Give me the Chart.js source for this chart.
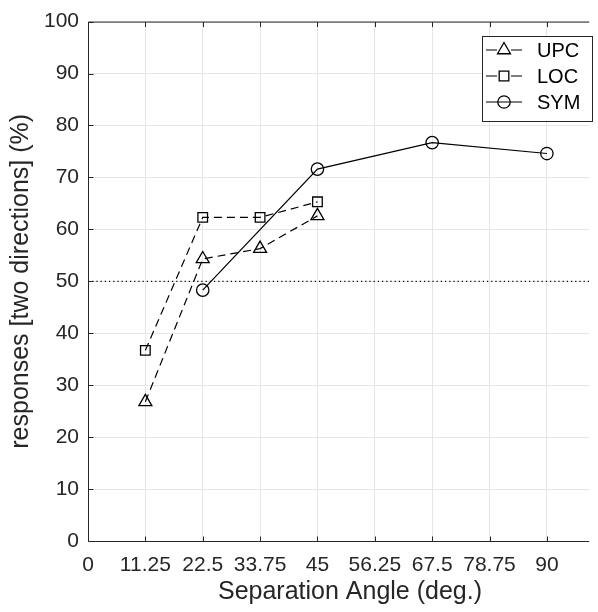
<!DOCTYPE html>
<html lang="en">
<head>
<meta charset="UTF-8">
<title>Separation Angle</title>
<script src="https://cdn.jsdelivr.net/npm/chart.js"></script>
<style>
  html, body { margin: 0; padding: 0; background: #fff; overflow: hidden; }
  #chart { display: block; }
</style>
</head>
<body>
<canvas id="chart" width="598" height="612"></canvas>
<script>
// tick positions / axis range (the axes run on past the right edge)
const xTicks = [0, 11.25, 22.5, 33.75, 45, 56.25, 67.5, 78.75, 90];
const yTicks = [0, 10, 20, 30, 40, 50, 60, 70, 80, 90, 100];
const xMax = 98.3;

// results per condition
const upcAngles = [11.25, 22.5, 33.75, 45];
const upcValues = [26.8, 54.3, 56.3, 62.6];
const locAngles = [11.25, 22.5, 33.75, 45];
const locValues = [36.7, 62.3, 62.3, 65.3];
const symAngles = [22.5, 45, 67.5, 90];
const symValues = [48.3, 71.6, 76.7, 74.6];
const chanceLevel = 50;

const labels = ['UPC', 'LOC', 'SYM'];
const FONT = '"Liberation Sans", Arial, Helvetica, sans-serif';
const INK = '#262626';

function pts(xs, ys) {
    return xs.map((x, i) => ({ x: x, y: ys[i] }));
}

function series(label, xs, ys, style, radius, dash) {
    return {
        label: label,
        data: pts(xs, ys),
        borderColor: '#000',
        borderWidth: 1.2,
        borderDash: dash,
        pointStyle: style,
        pointRadius: radius,
        pointHoverRadius: radius,
        pointBorderColor: '#000',
        pointBackgroundColor: 'rgba(0,0,0,0)',
        pointBorderWidth: 1.3,
        tension: 0,
        fill: false
    };
}

const datasets = [
    {
        label: 'chance',
        data: [{ x: 0, y: chanceLevel }, { x: xMax, y: chanceLevel }],
        borderColor: '#000',
        borderWidth: 1.2,
        borderDash: [1.2, 3],
        pointRadius: 0,
        fill: false
    },
    series(labels[0], upcAngles, upcValues, 'triangle', 7.5, [8, 5]),
    series(labels[1], locAngles, locValues, 'rect', 6.8, [8, 5]),
    series(labels[2], symAngles, symValues, 'circle', 6.2, [])
];

// left/top/bottom frame, inward tick marks, x axis title
const frame = {
    id: 'frame',
    afterDraw(chart) {
        const { ctx, chartArea: a, scales } = chart;
        const l = a.left + 0.5, t = a.top + 0.5, b = a.bottom + 0.5;
        ctx.save();
        ctx.strokeStyle = INK;
        ctx.lineWidth = 1;
        ctx.beginPath();
        ctx.moveTo(a.right, t); ctx.lineTo(l, t);
        ctx.lineTo(l, b); ctx.lineTo(a.right, b);
        xTicks.forEach(v => {
            const px = Math.round(scales.x.getPixelForValue(v)) + 0.5;
            ctx.moveTo(px, b); ctx.lineTo(px, b - 5);
            ctx.moveTo(px, t); ctx.lineTo(px, t + 5);
        });
        yTicks.forEach(v => {
            const py = Math.round(scales.y.getPixelForValue(v)) + 0.5;
            ctx.moveTo(l, py); ctx.lineTo(l + 5, py);
        });
        ctx.stroke();
        // axis title centred on the full (uncut) axes width
        ctx.fillStyle = INK;
        ctx.font = '25px ' + FONT;
        ctx.textAlign = 'center';
        ctx.textBaseline = 'middle';
        ctx.fillText('Separation Angle (deg.)', 350, 592);
        ctx.restore();
    }
};

// legend with line + marker samples
const boxLegend = {
    id: 'boxLegend',
    afterDraw(chart) {
        const ctx = chart.ctx;
        const bx = 482.5, by = 36.5, bw = 110, bh = 85;
        ctx.save();
        ctx.fillStyle = '#fff';
        ctx.fillRect(bx, by, bw, bh);
        ctx.strokeStyle = INK;
        ctx.lineWidth = 1;
        ctx.strokeRect(bx, by, bw, bh);
        const rows = [50, 76, 102];
        for (let i = 1; i < chart.data.datasets.length; i++) {
            const ds = chart.data.datasets[i];
            const y = rows[i - 1];
            ctx.strokeStyle = '#000';
            ctx.lineWidth = 1.2;
            ctx.setLineDash([]);
            ctx.beginPath();
            if (ds.borderDash.length) {
                ctx.moveTo(486, y); ctx.lineTo(497, y);
                ctx.moveTo(511, y); ctx.lineTo(522, y);
            } else {
                ctx.moveTo(486, y); ctx.lineTo(522, y);
            }
            ctx.stroke();
            ctx.fillStyle = 'rgba(0,0,0,0)';
            ctx.lineWidth = 1.3;
            Chart.helpers.drawPoint(ctx, {
                pointStyle: ds.pointStyle,
                radius: ds.pointRadius,
                borderWidth: 1.3,
                rotation: 0
            }, 504, y);
            ctx.fillStyle = '#000';
            ctx.font = '20px ' + FONT;
            ctx.textBaseline = 'middle';
            ctx.textAlign = 'left';
            ctx.fillText(ds.label, 537, y + 1);
        }
        ctx.restore();
    }
};

new Chart(document.getElementById('chart'), {
    type: 'line',
    data: { datasets: datasets },
    options: {
        responsive: false,
        animation: false,
        events: [],
        layout: { padding: { left: 0, top: 21, right: 0, bottom: 0 } },
        plugins: { legend: { display: false }, tooltip: { enabled: false } },
        scales: {
            x: {
                type: 'linear',
                min: 0,
                max: xMax,
                afterBuildTicks(scale) { scale.ticks = xTicks.map(v => ({ value: v })); },
                afterFit(scale) { scale.height = 71; },
                grid: { color: '#e6e6e6', lineWidth: 1, drawTicks: false },
                border: { display: false },
                ticks: {
                    color: INK,
                    padding: 12,
                    maxRotation: 0,
                    autoSkip: false,
                    font: { family: FONT, size: 21 },
                    callback: v => String(v)
                }
            },
            y: {
                min: 0,
                max: 100,
                afterBuildTicks(scale) { scale.ticks = yTicks.map(v => ({ value: v })); },
                afterFit(scale) { scale.width = 88; },
                grid: { color: '#e6e6e6', lineWidth: 1, drawTicks: false },
                border: { display: false },
                ticks: {
                    color: INK,
                    padding: 9,
                    font: { family: FONT, size: 21 }
                },
                title: {
                    display: true,
                    text: 'responses [two directions] (%)',
                    color: INK,
                    font: { family: FONT, size: 25 },
                    padding: { top: 6, bottom: 0 }
                }
            }
        }
    },
    plugins: [frame, boxLegend]
});
</script>
</body>
</html>
